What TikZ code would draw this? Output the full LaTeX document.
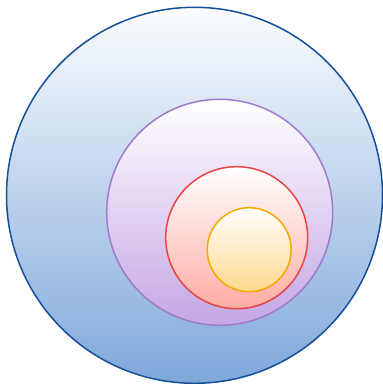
\documentclass[tikz,border=0pt]{standalone}
\begin{document}
\begin{tikzpicture}[x=1pt,y=1pt,
  ring/.style={circle, draw, inner sep=0pt, line width=1.5pt, top color=white}]
\useasboundingbox (0,0) rectangle (383,384);
\definecolor{outerB}{HTML}{7FA8DA}
\definecolor{outerD}{HTML}{14509A}
\definecolor{purB}{HTML}{C4A6E4}
\definecolor{purD}{HTML}{A07ACC}
\definecolor{redB}{HTML}{FFACA4}
\definecolor{redD}{HTML}{E84545}
\definecolor{yelB}{HTML}{FFD88C}
\definecolor{yelD}{HTML}{F5A800}
\node[ring, minimum size=376pt, draw=outerD, top color=outerB!3!white, bottom color=outerB] (outer) at (194.5,188.7) {};
\node[ring, minimum size=226pt, draw=purD, bottom color=purB] (purple) at (219.7,171.7) {};
\node[ring, minimum size=142pt, draw=redD, bottom color=redB] (red) at (236.7,146.3) {};
\node[ring, minimum size=84pt, draw=yelD, bottom color=yelB] (yellow) at (249.2,134.3) {};
\end{tikzpicture}
\end{document}
